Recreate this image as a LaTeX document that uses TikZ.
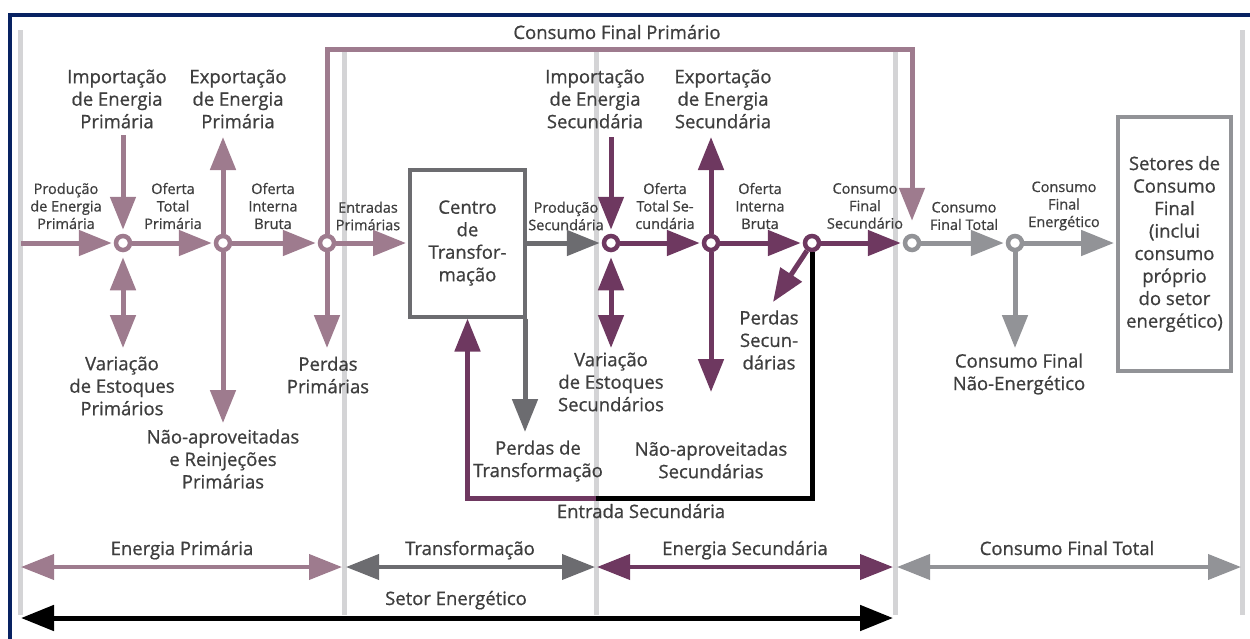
\documentclass[tikz,border=0pt]{standalone}
\usepackage{fontspec}
\setmainfont{Open Sans}[RawFeature={embolden=0.8}]
\usetikzlibrary{arrows.meta,positioning}
\definecolor{prim}{RGB}{158,123,142}
\definecolor{secd}{RGB}{110,56,96}
\definecolor{trans}{RGB}{108,108,112}
\definecolor{fin}{RGB}{146,147,151}
\definecolor{sepgray}{RGB}{212,212,214}
\definecolor{frameblue}{RGB}{8,34,98}
\definecolor{txt}{RGB}{62,62,62}
\tikzset{
  >={Triangle[length=33pt,width=25pt]},
  lbig/.style={font=\fontsize{18.5}{22.5}\selectfont, text=txt, align=center, inner sep=0pt},
  lsmall/.style={font=\fontsize{14.5}{17.5}\selectfont, text=txt, align=center, inner sep=0pt},
  hub/.style={circle, draw=#1, line width=4.5pt, fill=white, minimum size=14pt, inner sep=0pt},
  flowline/.style={draw=#1, line width=5pt, ->, shorten >=2pt},
  twoway/.style={draw=#1, line width=4pt, <->},
  divider/.style={draw=sepgray, line width=5pt},
  stage/.style={draw=#1, line width=4pt, lbig},
}
\begin{document}
\begin{tikzpicture}[x=1pt,y=-1pt]
\useasboundingbox (0,0) rectangle (1250,638);
\draw[frameblue, line width=4pt] (10,640) -- (10,15) -- (1252,15);
\draw[divider] (20,30) -- (20,615);
\draw[divider] (344,48) -- (344,615);
\draw[divider] (596,50) -- (596,615);
\draw[divider] (895,50) -- (895,615);
\draw[divider] (1242,30) -- (1242,615);

\node[hub=prim] (c1) at (123,243) {};
\node[hub=prim] (c2) at (223,243) {};
\node[hub=prim] (c3) at (327,243) {};
\node[hub=secd] (c4) at (611,243) {};
\node[hub=secd] (c5) at (711,243) {};
\node[hub=secd] (c6) at (812,243) {};
\node[hub=fin] (c7) at (912,243) {};
\node[hub=fin] (c8) at (1015,243) {};
\node[stage=trans, minimum width=115pt, minimum height=147pt] (centro) at (467.5,243) {Centro\\de\\Transfor-\\mação};
\node[stage=fin, minimum width=113pt, minimum height=254pt] (setores) at (1174.5,244) {Setores de\\Consumo\\Final\\(inclui\\consumo\\próprio\\do setor\\energético)};

\node[lsmall] (prodP) at (66,206) {Produção\\de Energia\\Primária};
\node[lsmall] (ofTP) at (173,206) {Oferta\\Total\\Primária};
\node[lsmall] (ofIB) at (273,206) {Oferta\\Interna\\Bruta};
\node[lsmall] (entP) at (368,216) {Entradas\\Primárias};
\node[lsmall] (prodS) at (566,216) {Produção\\Secundária};
\node[lsmall] (ofTS) at (665,206) {Oferta\\Total Se-\\cundária};
\node[lsmall] (ofIBS) at (760,206) {Oferta\\Interna\\Bruta};
\node[lsmall] (cfs) at (865,206) {Consumo\\Final\\Secundário};
\node[lsmall] (cft) at (964,216) {Consumo\\Final Total};
\node[lsmall] (cfe) at (1064,206) {Consumo\\Final\\Energético};

\node[lbig] (impP) at (117,99) {Importação\\de Energia\\Primária};
\node[lbig] (expP) at (238,99) {Exportação\\de Energia\\Primária};
\node[lbig] (impS) at (595,99) {Importação\\de Energia\\Secundária};
\node[lbig] (expS) at (723,99) {Exportação\\de Energia\\Secundária};
\node[lbig] (varP) at (122,386) {Variação\\de Estoques\\Primários};
\node[lbig] (naoP) at (223,459) {Não-aproveitadas\\e Reinjeções\\Primárias};
\node[lbig] (perP) at (328,375) {Perdas\\Primárias};
\node[lbig] (varS) at (611,382) {Variação\\de Estoques\\Secundários};
\node[lbig] (perT) at (538,461) {Perdas de\\Transformação};
\node[lbig] (naoS) at (711,460) {Não-aproveitadas\\Secundárias};
\node[lbig] (perS) at (769,340) {Perdas\\Secun-\\dárias};
\node[lbig] (cfne) at (1019,374) {Consumo Final\\Não-Energético};
\node[lbig, anchor=base] (cfp) at (617,39) {Consumo Final Primário};
\node[lbig, anchor=base] (entS) at (641,518) {Entrada Secundária};

\coordinate (src) at (21,243);
\coordinate (impPa) at (123,135);
\coordinate (expPa) at (223,137);
\coordinate (varPa) at (123,348);
\coordinate (naoPa) at (223,423);
\coordinate (perPa) at (327,348);
\coordinate (cfpa) at (327,49);
\coordinate (cfpb) at (912,49);
\coordinate (impSa) at (611,137);
\coordinate (varSa) at (611,348);
\coordinate (expSa) at (711,137);
\coordinate (naoSa) at (711,392);
\coordinate (perSa) at (773,302);
\coordinate (loopa) at (812,498);
\coordinate (loopb) at (596,498);
\coordinate (perTa) at (525,432);
\coordinate (cfnea) at (1015,348);

\draw[flowline=prim] (src) -- (c1);
\draw[flowline=prim] (c1) -- (c2);
\draw[flowline=prim] (c2) -- (c3);
\draw[flowline=prim] (c3) -- (centro);
\draw[flowline=trans] (centro) -- (c4);
\draw[flowline=secd] (c4) -- (c5);
\draw[flowline=secd] (c5) -- (c6);
\draw[flowline=secd] (c6) -- (c7);
\draw[flowline=fin] (c7) -- (c8);
\draw[flowline=fin] (c8) -- (c8 -| setores.west);

\draw[flowline=prim, shorten >=4pt] (impPa) -- (c1);
\draw[twoway=prim, line width=5pt, shorten <=5pt] (c1) -- (varPa);
\draw[flowline=prim, shorten >=0pt] (c2) -- (expPa);
\draw[flowline=prim, shorten >=0pt] (c2) -- (naoPa);
\draw[flowline=prim, shorten >=0pt] (c3) -- (perPa);
\draw[flowline=prim, shorten >=13pt] (c3) -- (cfpa) -- (cfpb) -- (c7);

\draw[flowline=secd, shorten >=4pt] (impSa) -- (c4);
\draw[twoway=secd, line width=5pt, shorten <=5pt] (c4) -- (varSa);
\draw[flowline=secd, shorten >=0pt] (c5) -- (expSa);
\draw[flowline=secd, shorten >=0pt] (c5) -- (naoSa);
\draw[flowline=secd, shorten >=0pt] (c6) -- (perSa);
\draw[line width=5pt] (c6) -- (loopa) -- (loopb);
\draw[flowline=secd, shorten >=0pt] (loopb) -| (centro);
\draw[flowline=trans, shorten >=0pt] (perTa |- centro.south) -- (perTa);
\draw[flowline=fin, shorten >=0pt] (c8) -- (cfnea);

\coordinate (b0) at (21,567);
\coordinate (b1) at (344,567);
\coordinate (b2) at (596,567);
\coordinate (b3) at (895,567);
\coordinate (b4) at (1241,567);
\coordinate (k0) at (21,618);
\coordinate (k3) at (893,618);
\draw[twoway=prim, shorten >=2pt] (b0) -- (b1);
\draw[twoway=trans, shorten <=2pt, shorten >=1pt] (b1) -- (b2);
\draw[twoway=secd, shorten <=1pt, shorten >=2pt] (b2) -- (b3);
\draw[twoway=fin, shorten <=2pt] (b3) -- (b4);
\draw[twoway=black, line width=5pt] (k0) -- (k3);
\node[lbig, anchor=base] (eprim) at (182,555) {Energia Primária};
\node[lbig, anchor=base] (etrans) at (470,555) {Transformação};
\node[lbig, anchor=base] (esec) at (745,555) {Energia Secundária};
\node[lbig, anchor=base] (efin) at (1067,555) {Consumo Final Total};
\node[lbig, anchor=base] (esetor) at (456,605) {Setor Energético};
\end{tikzpicture}
\end{document}
